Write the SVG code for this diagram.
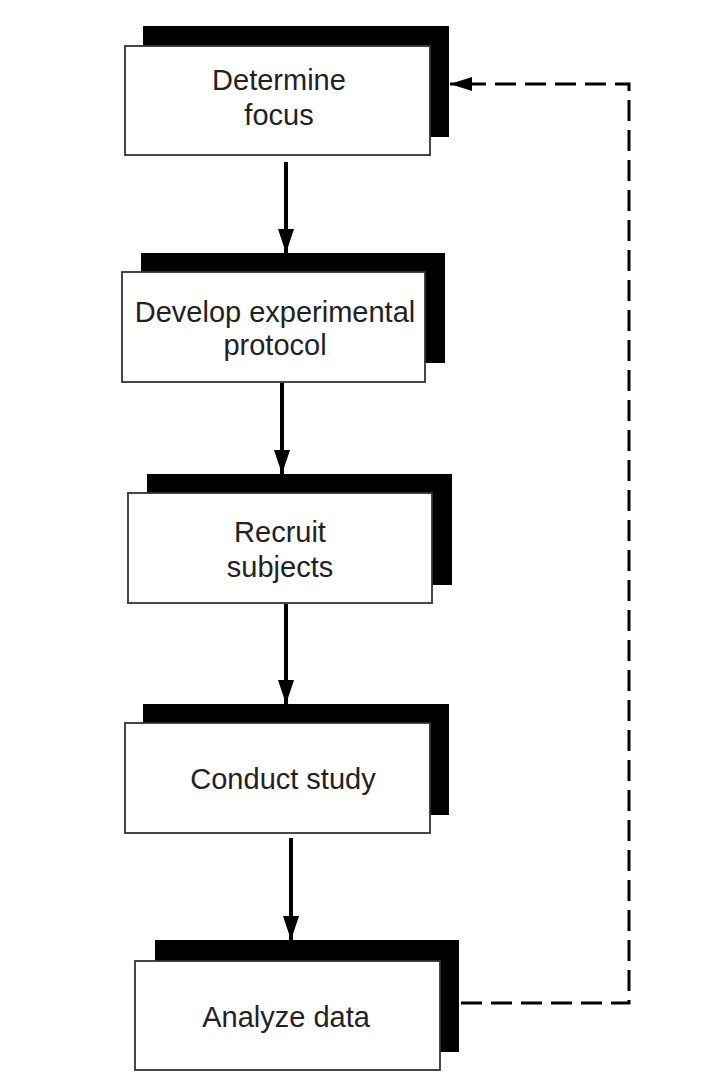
<svg xmlns="http://www.w3.org/2000/svg" width="722" height="1092" viewBox="0 0 722 1092">
<defs>
<style>
.shadow{fill:#000}
.box{fill:#fff;stroke:#333;stroke-width:1.8}
.lbl{font-family:"Liberation Sans",Arial,sans-serif;font-size:29px;fill:#222;text-anchor:middle}
.flow{stroke:#000;stroke-width:4;fill:none}
.dash{stroke:#000;stroke-width:3;fill:none;stroke-dasharray:21 9}
</style>
<marker id="ah" viewBox="0 0 24 16" refX="24" refY="8" markerWidth="24" markerHeight="16" markerUnits="userSpaceOnUse" orient="auto">
<path d="M0,0 L24,8 L0,16 Z" fill="#000"/>
</marker>
<marker id="ah2" viewBox="0 0 22 14" refX="22" refY="7" markerWidth="22" markerHeight="14" markerUnits="userSpaceOnUse" orient="auto">
<path d="M0,0 L22,7 L0,14 Z" fill="#000"/>
</marker>
</defs>
<rect width="722" height="1092" fill="#fff"/>
<g id="node-determine-focus">
<rect class="shadow" x="143" y="26" width="306" height="111"/>
<rect class="box" x="125" y="46" width="305" height="109"/>
<text class="lbl" x="279" y="90">Determine</text>
<text class="lbl" x="279" y="125">focus</text>
</g>
<g id="node-develop-protocol">
<rect class="shadow" x="141" y="253" width="304" height="110"/>
<rect class="box" x="122" y="272" width="303" height="110"/>
<text class="lbl" x="275" y="322">Develop experimental</text>
<text class="lbl" x="275" y="355">protocol</text>
</g>
<g id="node-recruit-subjects">
<rect class="shadow" x="147" y="474" width="305" height="111"/>
<rect class="box" x="128" y="493" width="304" height="110"/>
<text class="lbl" x="280" y="542">Recruit</text>
<text class="lbl" x="280" y="577">subjects</text>
</g>
<g id="node-conduct-study">
<rect class="shadow" x="143" y="704" width="306" height="111"/>
<rect class="box" x="125" y="723" width="305" height="110"/>
<text class="lbl" x="283" y="789">Conduct study</text>
</g>
<g id="node-analyze-data">
<rect class="shadow" x="155" y="940" width="304" height="112"/>
<rect class="box" x="135" y="961" width="305" height="109"/>
<text class="lbl" x="286" y="1027">Analyze data</text>
</g>
<g id="connectors">
<line class="flow" x1="286" y1="162" x2="286" y2="253" marker-end="url(#ah)"/>
<line class="flow" x1="282" y1="383" x2="282" y2="474" marker-end="url(#ah)"/>
<line class="flow" x1="286" y1="604" x2="286" y2="704" marker-end="url(#ah)"/>
<line class="flow" x1="291" y1="838" x2="291" y2="940" marker-end="url(#ah)"/>
<path class="dash" d="M461,1003 H629 V84 H450" marker-end="url(#ah2)"/>
</g>
</svg>
